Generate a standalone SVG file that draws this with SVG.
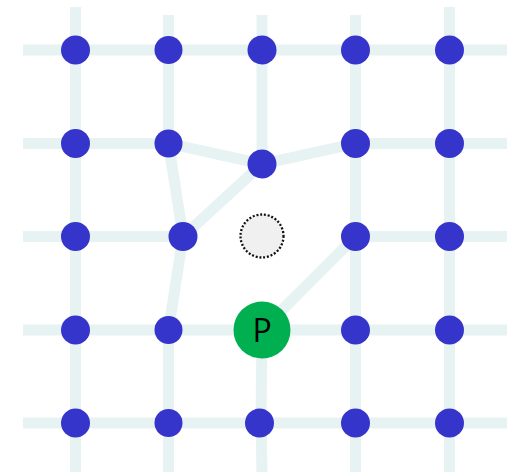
<svg xmlns="http://www.w3.org/2000/svg" width="513" height="472" viewBox="0 0 513 472">
<style>
.e{stroke:#e7f3f3;stroke-width:11;fill:none;stroke-linecap:butt}
.n{fill:#3535cc}
.t{font-family:"Open Sans","Liberation Sans",sans-serif;font-size:32px;fill:#000;text-anchor:middle}
</style>
<rect width="513" height="472" fill="#fff"/>
<g id="connectors">
<line class="e" x1="23" y1="50" x2="507" y2="50"/>
<polyline class="e" points="23,143.5 168.5,143.5 262,164 355.5,143.5 507,143.5"/>
<line class="e" x1="23" y1="236.5" x2="183" y2="236.5"/>
<line class="e" x1="355.5" y1="236.5" x2="507" y2="236.5"/>
<line class="e" x1="23" y1="330" x2="507" y2="330"/>
<line class="e" x1="23" y1="423" x2="507" y2="423"/>
<line class="e" x1="75.5" y1="7" x2="75.5" y2="472"/>
<polyline class="e" points="168.5,15 168.5,143.5 183,236.5 168.5,330 168.5,472"/>
<polyline class="e" points="262,15 262,164"/>
<polyline class="e" points="262,330 261,423 262,472"/>
<line class="e" x1="355.5" y1="15" x2="355.5" y2="472"/>
<line class="e" x1="449.5" y1="7" x2="449.5" y2="472"/>
<line class="e" x1="183" y1="236.5" x2="262" y2="164"/>
<line class="e" x1="355.5" y1="236.5" x2="262" y2="330"/>
</g>
<g id="n11"><circle class="n" cx="75.5" cy="50" r="14.5"/></g>
<g id="n12"><circle class="n" cx="168.5" cy="50" r="14"/></g>
<g id="n13"><circle class="n" cx="262" cy="50" r="14.5"/></g>
<g id="n14"><circle class="n" cx="355.5" cy="50" r="14.5"/></g>
<g id="n15"><circle class="n" cx="449.5" cy="50" r="14.5"/></g>
<g id="n21"><circle class="n" cx="75.5" cy="143.5" r="14.5"/></g>
<g id="n22"><circle class="n" cx="168.5" cy="143.5" r="14"/></g>
<g id="n23"><circle class="n" cx="262" cy="164" r="14.5"/></g>
<g id="n24"><circle class="n" cx="355.5" cy="143.5" r="14.5"/></g>
<g id="n25"><circle class="n" cx="449.5" cy="143.5" r="14.5"/></g>
<g id="n31"><circle class="n" cx="75.5" cy="236.5" r="14.5"/></g>
<g id="n32"><circle class="n" cx="183" cy="236.5" r="14.5"/></g>
<g id="empty"><circle cx="262" cy="236" r="21.5" fill="#f0f0f0" stroke="#111" stroke-width="2.3" stroke-dasharray="2 1.8"/></g>
<g id="n34"><circle class="n" cx="355.5" cy="236.5" r="14.5"/></g>
<g id="n35"><circle class="n" cx="449.5" cy="236.5" r="14.5"/></g>
<g id="n41"><circle class="n" cx="75.5" cy="330" r="14.5"/></g>
<g id="n42"><circle class="n" cx="168.5" cy="330" r="14"/></g>
<g id="P"><circle cx="262" cy="330" r="28.5" fill="#00b050"/><text class="t" x="262" y="341.5">P</text></g>
<g id="n44"><circle class="n" cx="355.5" cy="330" r="14.5"/></g>
<g id="n45"><circle class="n" cx="449.5" cy="330" r="14.5"/></g>
<g id="n51"><circle class="n" cx="75.5" cy="423" r="14.5"/></g>
<g id="n52"><circle class="n" cx="168.5" cy="423" r="14"/></g>
<g id="n53"><circle class="n" cx="259.5" cy="423" r="14.5"/></g>
<g id="n54"><circle class="n" cx="355.5" cy="423" r="14.5"/></g>
<g id="n55"><circle class="n" cx="449.5" cy="423" r="14.5"/></g>
</svg>
